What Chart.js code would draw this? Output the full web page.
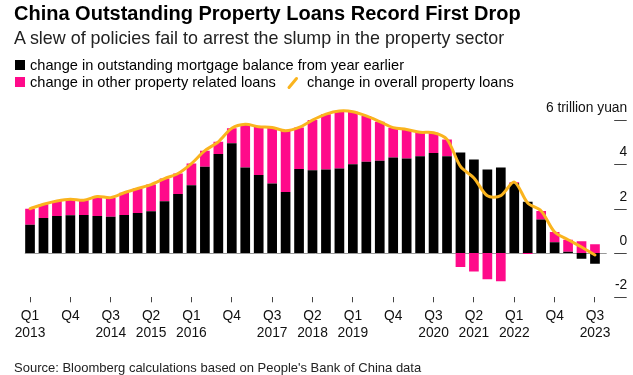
<!DOCTYPE html>
<html>
<head>
<meta charset="utf-8">
<script src="https://cdn.jsdelivr.net/npm/chart.js@4"></script>
<style>
  html, body { margin: 0; padding: 0; background: #fff; }
  #wrap { position: relative; width: 633px; height: 375px; overflow: hidden; font-family: "Liberation Sans", Arial, sans-serif; color: #000; }
  #wrap canvas { position: absolute; left: 0; top: 0; }
  .txt { position: absolute; white-space: nowrap; line-height: 1; }
  #title { left: 14px; top: 3.2px; font-size: 20px; font-weight: bold; }
  #subtitle { left: 14px; top: 29.9px; font-size: 17.9px; color: #222; }
  .legend { position: absolute; font-size: 14.6px; line-height: 1; white-space: nowrap; }
  .sw { position: absolute; width: 10px; height: 10px; }
  #source { left: 14px; top: 361px; font-size: 13px; color: #222; }
</style>
</head>
<body>
<div id="wrap">
  <canvas id="chart" width="633" height="375"></canvas>
  <div id="title" class="txt">China Outstanding Property Loans Record First Drop</div>
  <div id="subtitle" class="txt">A slew of policies fail to arrest the slump in the property sector</div>
  <div class="sw" style="left:15px;top:60px;background:#000"></div>
  <div class="legend" style="left:30px;top:57.6px">change in outstanding mortgage balance from year earlier</div>
  <div class="sw" style="left:15px;top:77px;background:#ff0a8a"></div>
  <div class="legend" style="left:30px;top:74.9px">change in other property related loans</div>
  <svg style="position:absolute;left:286px;top:76px" width="14" height="14"><line x1="3" y1="11.5" x2="10.5" y2="2.5" stroke="#fab41e" stroke-width="3" stroke-linecap="round"/></svg>
  <div class="legend" style="left:307px;top:74.9px">change in overall property loans</div>
  <div id="source" class="txt">Source: Bloomberg calculations based on People's Bank of China data</div>
</div>
<script>
// trimestres, de Q1 2013 a Q3 2023
const quarters = [
  'Q1 2013', 'Q2 2013', 'Q3 2013', 'Q4 2013',
  'Q1 2014', 'Q2 2014', 'Q3 2014', 'Q4 2014',
  'Q1 2015', 'Q2 2015', 'Q3 2015', 'Q4 2015',
  'Q1 2016', 'Q2 2016', 'Q3 2016', 'Q4 2016',
  'Q1 2017', 'Q2 2017', 'Q3 2017', 'Q4 2017',
  'Q1 2018', 'Q2 2018', 'Q3 2018', 'Q4 2018',
  'Q1 2019', 'Q2 2019', 'Q3 2019', 'Q4 2019',
  'Q1 2020', 'Q2 2020', 'Q3 2020', 'Q4 2020',
  'Q1 2021', 'Q2 2021', 'Q3 2021', 'Q4 2021',
  'Q1 2022', 'Q2 2022', 'Q3 2022', 'Q4 2022',
  'Q1 2023', 'Q2 2023', 'Q3 2023'
];

// trillion yuan, year-on-year change
const mortgageChange = [
  1.28, 1.58, 1.67, 1.70, 1.72, 1.67, 1.64, 1.72, 1.81, 1.89, 2.34,
  2.66, 3.06, 3.89, 4.47, 4.95, 3.86, 3.52, 3.14, 2.76, 3.79, 3.74,
  3.77, 3.82, 4.01, 4.12, 4.16, 4.31, 4.27, 4.37, 4.52, 4.37, 4.54,
  4.22, 3.77, 3.86, 3.15, 2.31, 1.51, 0.48, 0.06, -0.26, -0.48
];
const otherChange = [
  0.72, 0.62, 0.68, 0.73, 0.66, 0.88, 0.86, 1.00, 1.10, 1.20, 1.02,
  0.93, 0.98, 0.73, 0.55, 0.68, 1.95, 2.18, 2.53, 2.76, 1.88, 2.26,
  2.50, 2.59, 2.37, 2.07, 1.77, 1.35, 1.31, 1.08, 0.91, 0.76, -0.63,
  -0.83, -1.19, -1.27, 0.05, -0.05, 0.39, 0.47, 0.54, 0.53, 0.39
];
const overallChange = [
  2.00, 2.20, 2.35, 2.43, 2.38, 2.55, 2.50, 2.72, 2.91, 3.09, 3.36,
  3.59, 4.04, 4.62, 5.02, 5.63, 5.81, 5.70, 5.67, 5.52, 5.67, 6.00,
  6.27, 6.41, 6.38, 6.19, 5.93, 5.66, 5.58, 5.45, 5.43, 5.13, 3.91,
  3.39, 2.58, 2.59, 3.20, 2.26, 1.90, 0.95, 0.60, 0.27, -0.09
];

// rótulos do eixo x (só a cada 3 trimestres)
const xTickLabels = {
  'Q1 2013': ['Q1', '2013'], 'Q4 2013': ['Q4'], 'Q3 2014': ['Q3', '2014'],
  'Q2 2015': ['Q2', '2015'], 'Q1 2016': ['Q1', '2016'], 'Q4 2016': ['Q4'],
  'Q3 2017': ['Q3', '2017'], 'Q2 2018': ['Q2', '2018'], 'Q1 2019': ['Q1', '2019'],
  'Q4 2019': ['Q4'], 'Q3 2020': ['Q3', '2020'], 'Q2 2021': ['Q2', '2021'],
  'Q1 2022': ['Q1', '2022'], 'Q4 2022': ['Q4'], 'Q3 2023': ['Q3', '2023']
};
const yTicks = [-2, 0, 2, 4, 6];
const yTickLabels = ['-2', '0', '2', '4', '6 trillion yuan'];

const FONT = '"Liberation Sans", Arial, sans-serif';

// eixo y à direita e linha do zero
const axisPlugin = {
  id: 'axisPlugin',
  beforeDatasetsDraw(chart) {
    const { ctx, chartArea, scales: { y } } = chart;
    const y0 = Math.round(y.getPixelForValue(0)) + 0.5;
    ctx.save();
    ctx.strokeStyle = '#999';
    ctx.lineWidth = 1;
    ctx.beginPath();
    ctx.moveTo(chartArea.left + 1.5, y0);
    ctx.lineTo(chartArea.right + 5, y0);
    ctx.stroke();
    ctx.restore();
  },
  afterDraw(chart) {
    const { ctx, chartArea, scales: { y } } = chart;
    ctx.save();
    ctx.strokeStyle = '#444';
    ctx.lineWidth = 1;
    ctx.fillStyle = '#111';
    ctx.font = '13.8px ' + FONT;
    ctx.textAlign = 'right';
    ctx.textBaseline = 'alphabetic';
    yTicks.forEach((v, i) => {
      const py = Math.round(y.getPixelForValue(v)) + 0.5;
      ctx.beginPath();
      ctx.moveTo(chartArea.right + 12.5, py);
      ctx.lineTo(chartArea.right + 25, py);
      ctx.stroke();
      ctx.fillText(yTickLabels[i], chartArea.right + 25.5, py - 8.5);
    });
    ctx.restore();
  }
};

function initChart() {
  const ctx = document.getElementById('chart').getContext('2d');
  new Chart(ctx, {
    data: {
      labels: quarters,
      datasets: [
        {
          type: 'line',
          label: 'change in overall property loans',
          data: overallChange,
          borderColor: '#fab41e',
          borderWidth: 3,
          pointRadius: 0,
          tension: 0.3,
          borderCapStyle: 'round',
          borderJoinStyle: 'round',
          stack: 'total',
          order: 0
        },
        {
          type: 'bar',
          label: 'change in outstanding mortgage balance from year earlier',
          data: mortgageChange,
          backgroundColor: '#000',
          stack: 'loans',
          order: 1
        },
        {
          type: 'bar',
          label: 'change in other property related loans',
          data: otherChange,
          backgroundColor: '#ff0a8a',
          stack: 'loans',
          order: 2
        }
      ]
    },
    options: {
      responsive: false,
      animation: false,
      devicePixelRatio: 1,
      layout: { padding: { left: 23.3, right: 31.3, top: 102.4, bottom: 0 } },
      datasets: { bar: { categoryPercentage: 1, barPercentage: 0.72 } },
      plugins: { legend: { display: false }, tooltip: { enabled: false } },
      scales: {
        x: {
          stacked: true,
          afterFit(scale) { scale.height = 77.7; },
          border: { display: false },
          grid: {
            offset: false,
            drawOnChartArea: false,
            drawTicks: true,
            tickLength: 5,
            color: (c) => (xTickLabels[quarters[c.index]] ? '#444' : 'rgba(0,0,0,0)')
          },
          ticks: {
            autoSkip: false,
            maxRotation: 0,
            padding: 5,
            color: '#111',
            font: { family: FONT, size: 13.8, lineHeight: 1.26 },
            callback: (val, idx) => xTickLabels[quarters[idx]] || ''
          }
        },
        y: {
          display: false,
          stacked: true,
          min: -2,
          max: 6.8
        }
      }
    },
    plugins: [axisPlugin]
  });
}

document.addEventListener('DOMContentLoaded', initChart);
</script>
</body>
</html>
